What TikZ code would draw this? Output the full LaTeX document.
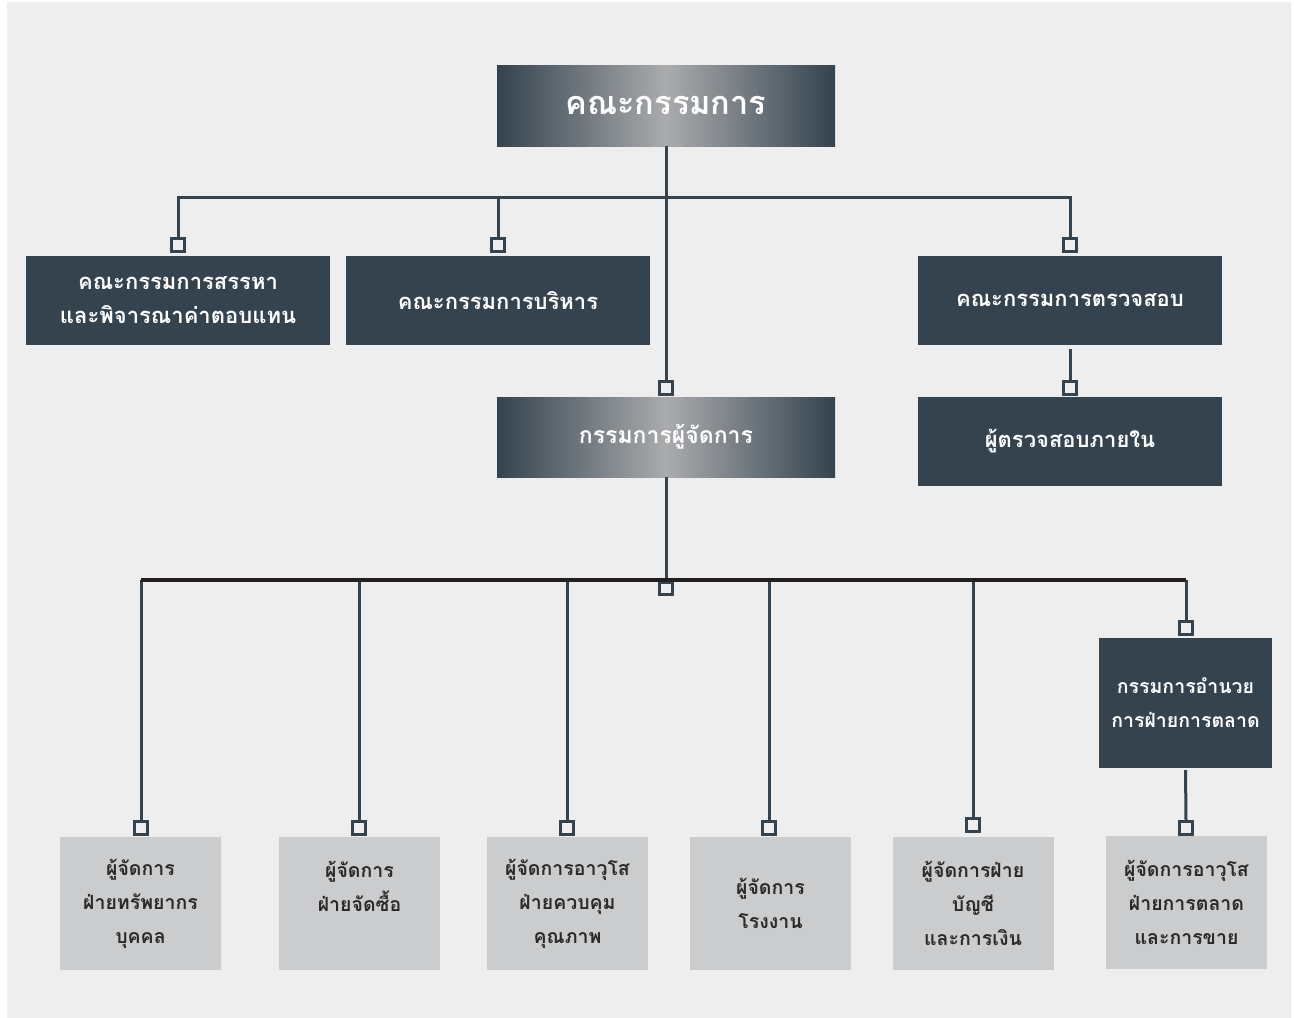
\documentclass[tikz,border=0pt]{standalone}
\usepackage{fontspec}
\newfontfamily\thaib[Script=Thai]{Loma}
\definecolor{bgc}{HTML}{EDEEED}
\definecolor{darkc}{HTML}{34434E}
\definecolor{lightg}{HTML}{AAABAD}
\definecolor{boxg}{HTML}{CBCCCE}
\definecolor{txtd}{HTML}{2A2A2A}
\definecolor{blk}{HTML}{231F20}
\tikzset{
  darkbox/.style={fill=darkc, text=white, align=center, inner sep=0pt,
    font=\thaib\bfseries\fontsize{22}{34}\selectfont},
  gradbox/.style={shading=axis, left color=darkc, right color=darkc, middle color=lightg,
    text=white, align=center, inner sep=0pt},
  lightbox/.style={fill=boxg, text=txtd, align=center, inner sep=0pt,
    minimum width=161pt, minimum height=133pt,
    font=\thaib\bfseries\fontsize{19.5}{34}\selectfont},
  sq/.style={draw=darkc, line width=3pt, fill=bgc, minimum size=12.5pt, inner sep=0pt},
  conn/.style={draw=darkc, line width=3pt},
  hline/.style={draw=blk, line width=3.5pt},
}
\begin{document}
\begin{tikzpicture}[x=1pt,y=-1pt]
\useasboundingbox (0,0) rectangle (1294,1018);
\fill[white] (0,0) rectangle (1294,1018);
\fill[bgc] (7,2) rectangle (1291,1018);

% main boxes
\node[gradbox, minimum width=338pt, minimum height=81pt,
  font=\thaib\bfseries\fontsize{32.5}{36}\selectfont] (top) at (666,105.5) {คณะกรรมการ};
\node[darkbox, minimum width=304pt, minimum height=89pt] (A) at (178,300.5) {คณะกรรมการสรรหา\\และพิจารณาค่าตอบแทน};
\node[darkbox, minimum width=304pt, minimum height=89pt] (B) at (498,300.5) {คณะกรรมการบริหาร};
\node[darkbox, minimum width=304pt, minimum height=89pt] (C) at (1070,300.5) {คณะกรรมการตรวจสอบ};
\node[darkbox, minimum width=304pt, minimum height=89pt] (D) at (1070,441.5) {ผู้ตรวจสอบภายใน};
\node[gradbox, minimum width=338pt, minimum height=80pt,
  font=\thaib\bfseries\fontsize{23}{34}\selectfont] (md) at (666,437) {กรรมการผู้จัดการ};
\node[darkbox, minimum width=173pt, minimum height=130pt,
  font=\thaib\bfseries\fontsize{19.5}{34}\selectfont] (E) at (1185.5,703) {กรรมการอำนวย\\การฝ่ายการตลาด};

% bottom boxes
\node[lightbox] (b1) at (140.5,903.5) {ผู้จัดการ\\ฝ่ายทรัพยากร\\บุคคล};
\node[lightbox] (b2) at (359.5,903.5) {ผู้จัดการ\\ฝ่ายจัดซื้อ\\\mbox{}};
\node[lightbox] (b3) at (567.5,903.5) {ผู้จัดการอาวุโส\\ฝ่ายควบคุม\\คุณภาพ};
\node[lightbox] (b4) at (770.5,903.5) {ผู้จัดการ\\โรงงาน};
\node[lightbox] (b5) at (973,903.5) {ผู้จัดการฝ่าย\\บัญชี\\และการเงิน};
\node[lightbox] (b6) at (1186.5,902) {ผู้จัดการอาวุโส\\ฝ่ายการตลาด\\และการขาย};

% junctions
\coordinate (jTop) at (666,197);
\coordinate (jL) at (141,580);
\coordinate (jM) at (666,580);
\coordinate (jR) at (1186,580);

% squares
\node[sq] (sqA) at (178,245) {};
\node[sq] (sqB) at (498,245) {};
\node[sq] (sqC) at (1070,245) {};
\node[sq] (sqMD) at (666,388) {};
\node[sq] (sqD) at (1070,388) {};
\node[sq] (sqM) at (666,588.5) {};
\node[sq] (sqE) at (1186,628) {};
\node[sq] (sq1) at (141,828) {};
\node[sq] (sq2) at (359,828) {};
\node[sq] (sq3) at (567,828) {};
\node[sq] (sq4) at (769,828) {};
\node[sq] (sq5) at (973,825) {};
\node[sq] (sq6) at (1186,828) {};

% connectors
\draw[conn] (top.south) -- (sqMD.north);
\draw[conn] (sqA.north) |- (jTop) -| (sqC.north);
\draw[conn] (sqB.north) -- (sqB.north |- jTop);
\draw[conn, shorten <=4pt] (C.south) -- (sqD.north);
\draw[conn] (md.south) -- (jM);
\draw[conn] (sq1.north) -- (sq1.north |- jL);
\draw[conn] (sq2.north) -- (sq2.north |- jL);
\draw[conn] (sq3.north) -- (sq3.north |- jL);
\draw[conn] (sq4.north) -- (sq4.north |- jL);
\draw[conn] (sq5.north) -- (sq5.north |- jL);
\draw[conn] (jR) -- (sqE.north);
\draw[conn, shorten <=2pt] (E.south) -- (sq6.north);
\draw[hline] (jL) -- (jR);
\end{tikzpicture}
\end{document}
